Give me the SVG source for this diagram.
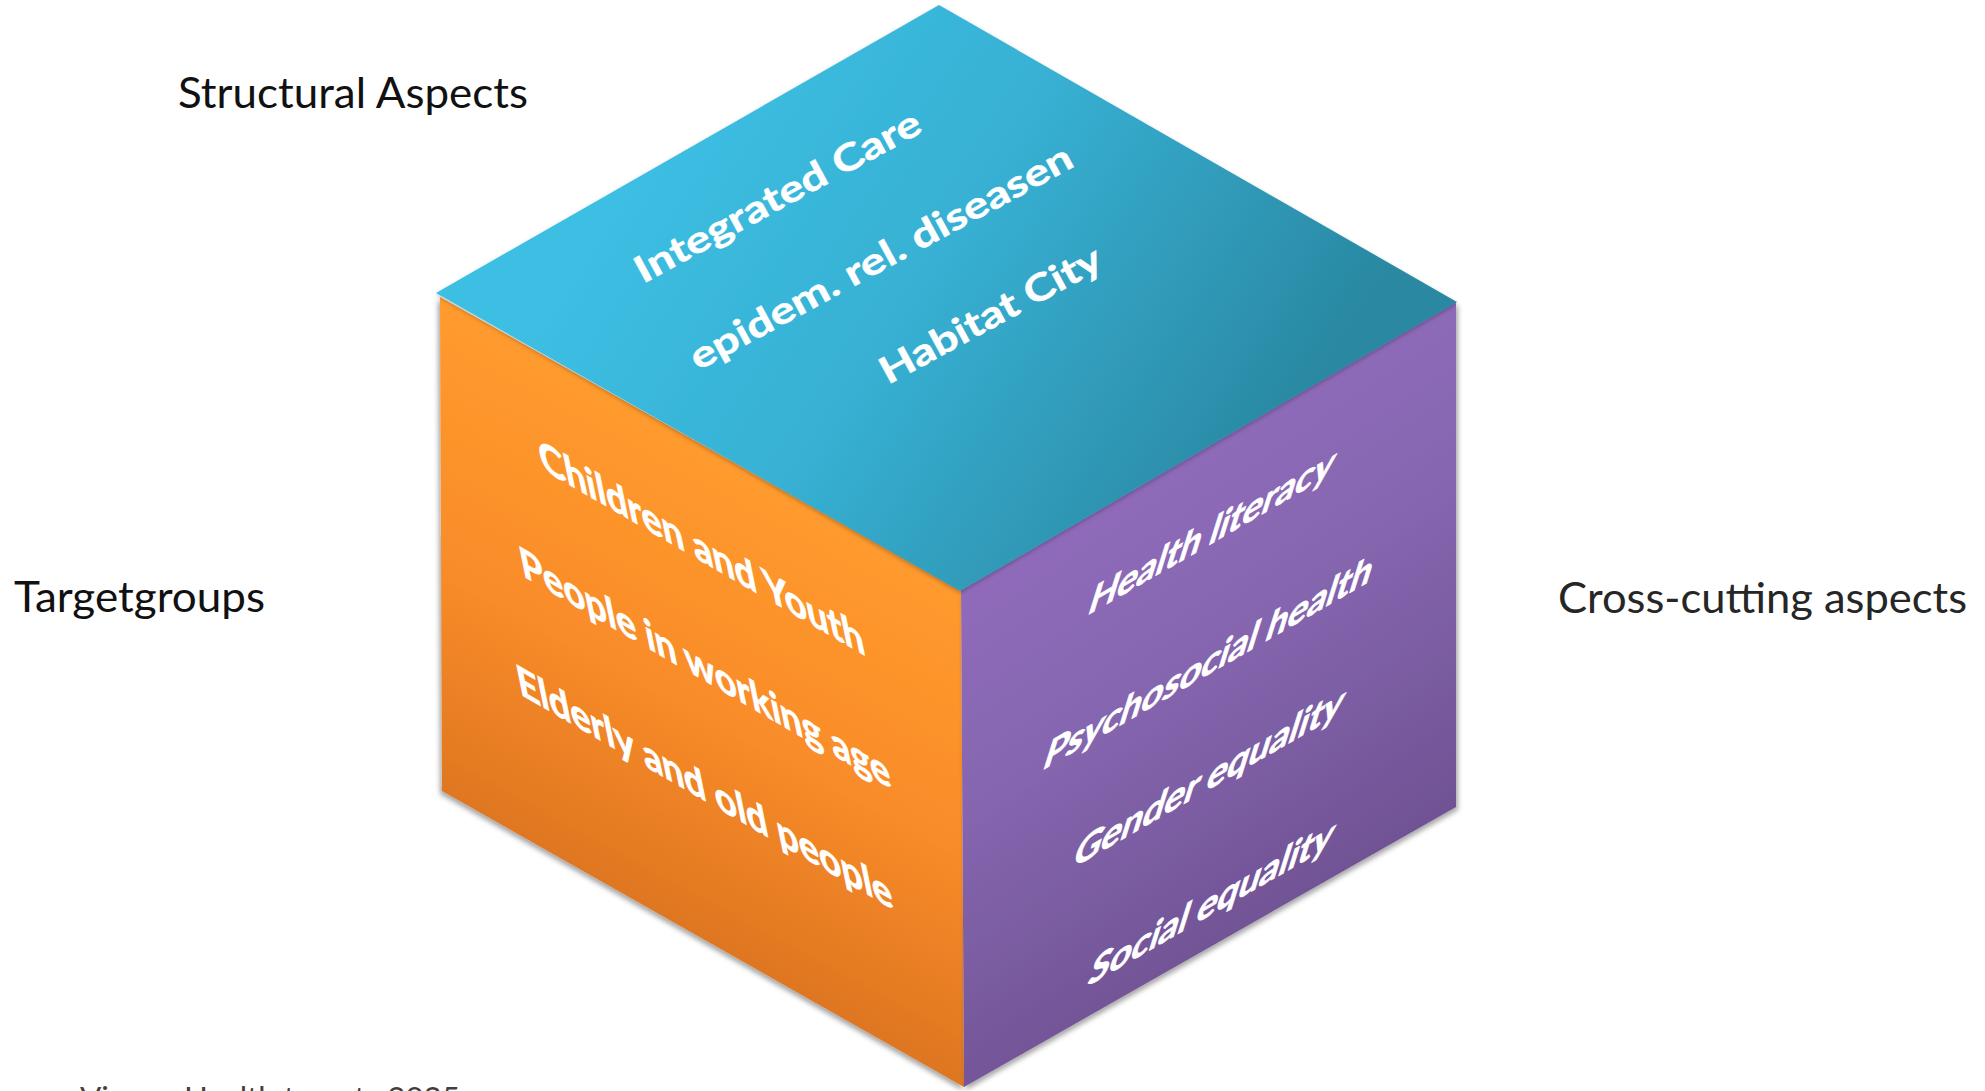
<svg xmlns="http://www.w3.org/2000/svg" width="1985" height="1091" viewBox="0 0 1985 1091">
  <defs>
    <linearGradient id="gTop" gradientUnits="userSpaceOnUse" x1="640" y1="140" x2="1230" y2="520">
      <stop offset="0" stop-color="#3CBFE3"/>
      <stop offset="0.45" stop-color="#37B0D3"/>
      <stop offset="1" stop-color="#2A88A2"/>
    </linearGradient>
    <linearGradient id="gLeft" gradientUnits="userSpaceOnUse" x1="820" y1="520" x2="560" y2="1000">
      <stop offset="0" stop-color="#FF9A2E"/>
      <stop offset="0.4" stop-color="#F98C29"/>
      <stop offset="1" stop-color="#CF6A1D"/>
    </linearGradient>
    <linearGradient id="gRight" gradientUnits="userSpaceOnUse" x1="1020" y1="460" x2="1360" y2="960">
      <stop offset="0" stop-color="#946EC0"/>
      <stop offset="0.45" stop-color="#8465AE"/>
      <stop offset="1" stop-color="#6B4D8D"/>
    </linearGradient>
    <filter id="shL" x="-10%" y="-10%" width="120%" height="120%">
      <feDropShadow dx="-2" dy="3" stdDeviation="2.5" flood-color="#000" flood-opacity="0.35"/>
    </filter>
    <filter id="shR" x="-10%" y="-10%" width="120%" height="120%">
      <feDropShadow dx="2" dy="3" stdDeviation="2.5" flood-color="#000" flood-opacity="0.35"/>
    </filter>
    <filter id="shT" x="-10%" y="-10%" width="120%" height="120%">
      <feDropShadow dx="0" dy="2" stdDeviation="2" flood-color="#000" flood-opacity="0.25"/>
    </filter>
  </defs>
  <style>
    .lbl { font-family: Lato, "Liberation Sans", sans-serif; font-size: 42px; fill: #111; }
    .cube { font-family: Lato, "Liberation Sans", sans-serif; font-weight: bold; fill: #FFFFFF; stroke: #FFFFFF; stroke-width: 0.9px; }
    .top { font-size: 37px; stroke-width: 0.5px; }
    .side { font-size: 44px; }
  </style>
  <rect width="1985" height="1091" fill="#FFFFFF"/>

  <g id="connectors"/>

  <g id="face-left">
    <polygon points="440,297 961,590 964,1087 442,791" fill="url(#gLeft)" filter="url(#shL)"/>
    <text class="cube side" transform="matrix(0.866,0.5,0.2,0.98,542,469)" textLength="375" lengthAdjust="spacingAndGlyphs">Children and Youth</text>
    <text class="cube side" transform="matrix(0.866,0.5,0.2,0.98,523,576)" textLength="427" lengthAdjust="spacingAndGlyphs">People in working age</text>
    <text class="cube side" transform="matrix(0.866,0.5,0.2,0.98,520,694)" textLength="433" lengthAdjust="spacingAndGlyphs">Elderly and old people</text>
  </g>

  <g id="face-right">
    <polygon points="961,590 1456,302 1456,807 964,1087" fill="url(#gRight)" filter="url(#shR)"/>
    <text class="cube side" transform="matrix(0.866,-0.5,-0.3,0.954,1086,616)" textLength="282" lengthAdjust="spacingAndGlyphs">Health literacy</text>
    <text class="cube side" transform="matrix(0.866,-0.5,-0.3,0.954,1041,771)" textLength="378" lengthAdjust="spacingAndGlyphs">Psychosocial health</text>
    <text class="cube side" transform="matrix(0.866,-0.5,-0.3,0.954,1071,869)" textLength="310" lengthAdjust="spacingAndGlyphs">Gender equality</text>
    <text class="cube side" transform="matrix(0.866,-0.5,-0.3,0.954,1086,987)" textLength="281" lengthAdjust="spacingAndGlyphs">Social equality</text>
  </g>

  <g id="face-top">
    <polygon points="939,5 436,293 960,591 1457,302" fill="url(#gTop)" filter="url(#shT)"/>
    <text class="cube top" transform="translate(643,284) rotate(-28.5)" textLength="320" lengthAdjust="spacingAndGlyphs">Integrated Care</text>
    <text class="cube top" transform="translate(698,371) rotate(-28.5)" textLength="430" lengthAdjust="spacingAndGlyphs">epidem. rel. diseasen</text>
    <text class="cube top" transform="translate(888,385) rotate(-28.5)" textLength="247" lengthAdjust="spacingAndGlyphs">Habitat City</text>
  </g>

  <g id="label-structural">
    <text class="lbl" x="178" y="108" textLength="350" lengthAdjust="spacingAndGlyphs">Structural Aspects</text>
  </g>
  <g id="label-targetgroups">
    <text class="lbl" x="14" y="612" textLength="251" lengthAdjust="spacingAndGlyphs">Targetgroups</text>
  </g>
  <g id="label-crosscutting">
    <text class="lbl" x="1558" y="613" textLength="409" lengthAdjust="spacingAndGlyphs" style="fill:#262626">Cross-cutting aspects</text>
  </g>
  <g id="label-source">
    <text x="80" y="1109" textLength="380" lengthAdjust="spacingAndGlyphs" style="font-family: Lato, 'Liberation Sans', sans-serif; font-size: 31px; fill: #404040;">Vienna Health targets 2025</text>
  </g>
</svg>
